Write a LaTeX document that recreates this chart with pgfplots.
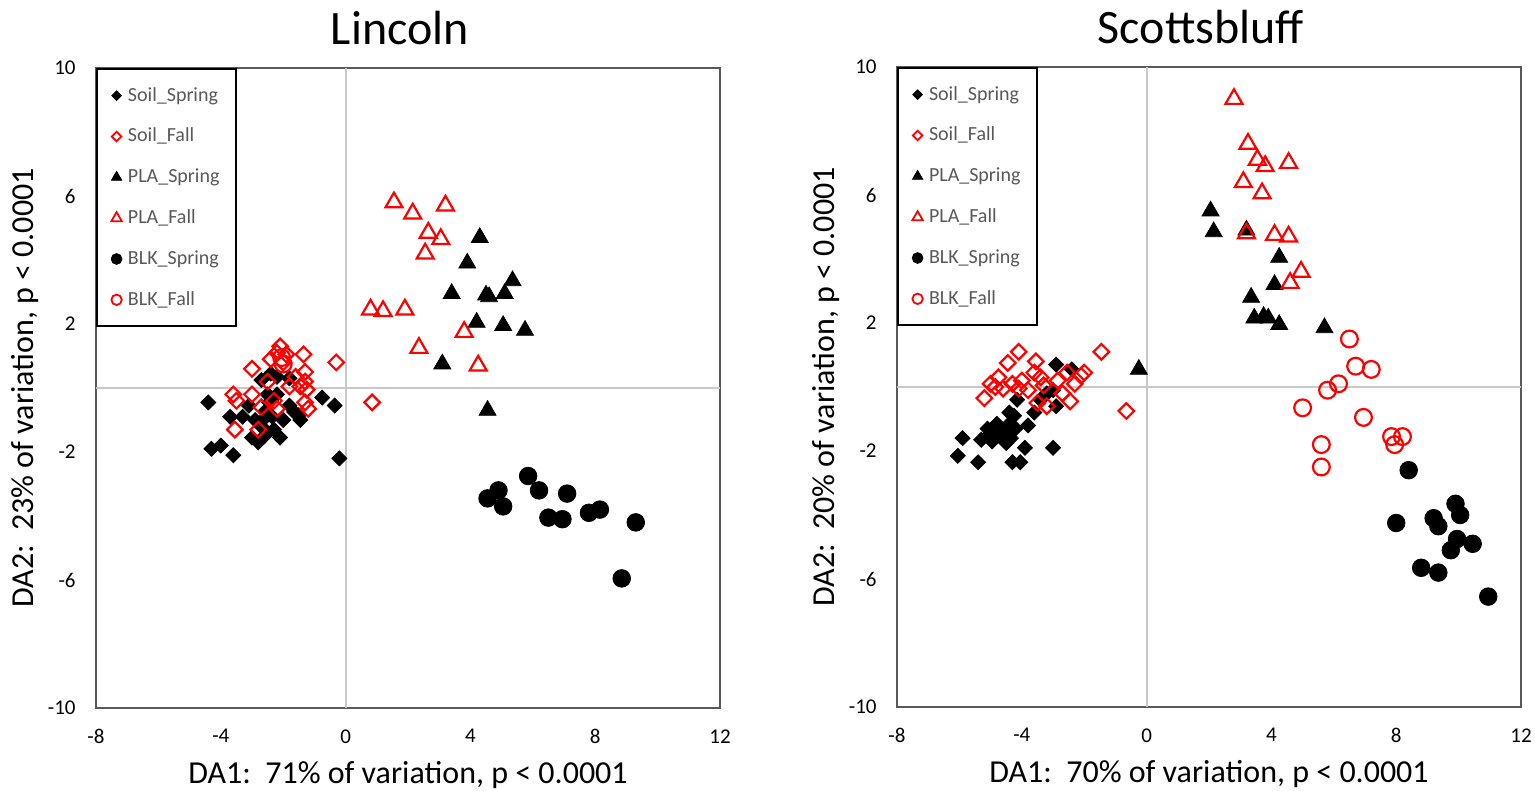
\documentclass[border=0pt]{standalone}
\usepackage{fontspec}
\setmainfont{Carlito}
\usepackage{pgfplots}
\pgfplotsset{compat=1.18}
\definecolor{axgray}{HTML}{595959}
\definecolor{zgray}{HTML}{C8C8C8}
\definecolor{lgray}{HTML}{595959}
\definecolor{myred}{HTML}{FF0000}
\pgfplotsset{
  mylegimg/.style={legend image code/.code={\draw[##1] plot coordinates {(0pt,0pt)};}},
  soilS/.style={only marks, color=black, mark=square*, mark size=2.65pt, mark options={rotate=45, fill=black, draw=black, line width=0.4pt}, mylegimg},
  soilF/.style={only marks, color=myred, mark=square, mark size=2.75pt, mark options={rotate=45, draw=myred, line width=1.1pt}, mylegimg},
  plaS/.style={only marks, color=black, mark=triangle*, mark size=4.9pt, mark options={fill=black, line width=0.4pt}, mylegimg},
  plaF/.style={only marks, color=myred, mark=triangle, mark size=4.9pt, mark options={draw=myred, line width=1.1pt}, mylegimg},
  blkS/.style={only marks, color=black, mark=*, mark size=4.4pt, mark options={fill=black, line width=0.4pt}, mylegimg},
  blkF/.style={only marks, color=myred, mark=o, mark size=4.2pt, mark options={draw=myred, line width=1.1pt}, mylegimg},
  myaxis/.style={
    scale only axis, width=312pt, height=320pt,
    xmin=-8, xmax=12, ymin=-10, ymax=10,
    xtick={-8,-4,0,4,8,12}, ytick={-10,-6,-2,2,6,10},
    major tick length=0pt,
    axis line style={draw=axgray, line width=0.75pt},
    tick label style={font=\fontsize{10.5}{12}\selectfont, /pgf/number format/assume math mode=true},
    yticklabel style={inner sep=0pt, xshift=-10pt},
    xticklabel style={inner sep=0pt, yshift=-10.5pt},
    xlabel style={at={(axis description cs:0.5,-0.1047)}, anchor=center, font=\fontsize{16}{19}\selectfont},
    ylabel style={at={(axis description cs:-0.1138,0.5)}, anchor=center, font=\fontsize{16}{19}\selectfont},
    title style={at={(axis description cs:0.487,1.043)}, anchor=center, font=\fontsize{24}{28}\selectfont},
    legend cell align=left,
    legend style={at={(axis description cs:0,1)}, anchor=north west, draw=black, line width=1.2pt, fill=white,
      font=\fontsize{10}{12}\selectfont, text=lgray, inner xsep=7pt, inner ysep=7pt, row sep=8pt,
      nodes={text width=45pt, align=left},
      /tikz/every odd column/.append style={column sep=1pt}},
    legend image post style={line width=0.5pt},
  },
}
\begin{document}
\begin{tikzpicture}
% ---------------- Lincoln ----------------
\begin{axis}[myaxis, title={Lincoln},
  xlabel={DA1:\ \ 71\% of variation, p < 0.0001},
  ylabel={DA2:\ \ 23\% of variation, p < 0.0001}]
\draw[zgray, line width=1pt] (axis cs:0,-10) -- (axis cs:0,10);
\draw[zgray, line width=1pt] (axis cs:-8,0) -- (axis cs:12,0);
\addlegendimage{soilS, mark size=1.7pt}\addlegendentry{Soil\_Spring}
\addlegendimage{soilF, mark size=1.7pt, mark options={rotate=45, draw=myred, line width=0.9pt}}\addlegendentry{Soil\_Fall}
\addlegendimage{plaS, mark size=3.0pt}\addlegendentry{PLA\_Spring}
\addlegendimage{plaF, mark size=3.0pt, mark options={draw=myred, line width=0.9pt}}\addlegendentry{PLA\_Fall}
\addlegendimage{blkS, mark size=2.7pt}\addlegendentry{BLK\_Spring}
\addlegendimage{blkF, mark size=2.6pt, mark options={draw=myred, line width=0.9pt}}\addlegendentry{BLK\_Fall}
\addplot[soilS, forget plot] coordinates {
(-4.4,-0.45) (-4.3,-1.9) (-4.0,-1.8) (-3.6,-2.1) (-3.7,-0.9) (-3.3,-0.9) (-3.1,-0.55)
(-3.0,-1.55) (-2.8,-1.7) (-2.7,-1.2) (-2.6,-0.95) (-2.55,-0.7) (-2.45,-0.45) (-2.7,0.25)
(-2.4,0.45) (-2.2,0.35) (-2.1,-1.55) (-1.8,-0.55) (-1.65,-0.75) (-1.45,-1.0) (-0.75,-0.3)
(-0.35,-0.55) (-0.2,-2.2) (-1.8,0.3) (-2.5,-0.2) (-2.35,-0.9) (-2.9,-1.0) (-2.2,-0.2)
(-2.6,-1.5) (-2.3,-1.3) (-2.0,-1.0) (-1.5,-0.85)};
\addplot[soilF, forget plot] coordinates {
(-2.1,1.3) (-2.2,1.1) (-1.9,1.05) (-1.35,1.05) (-0.3,0.8) (-3.0,0.6) (-2.4,0.9) (-2.0,0.8)
(-1.3,0.5) (-1.3,0.2) (-1.45,0.05) (-3.6,-0.2) (-3.0,-0.2) (-3.5,-0.4) (-2.3,-0.4) (-1.8,0.05)
(-1.25,-0.05) (-1.3,-0.45) (-1.2,-0.65) (-2.2,-0.65) (-3.55,-1.3) (-2.8,-1.3) (0.85,-0.45)
(-2.5,0.2) (-1.6,0.35) (-2.7,-0.6)};
\addplot[plaS, forget plot] coordinates {
(4.3,4.7) (3.9,3.9) (3.4,2.95) (4.5,2.9) (4.6,2.85) (5.35,3.35) (5.1,2.95) (4.2,2.05)
(5.05,1.95) (5.75,1.8) (3.1,0.75) (4.55,-0.7)};
\addplot[plaF, forget plot] coordinates {
(1.55,5.8) (2.15,5.45) (3.2,5.7) (2.65,4.85) (3.05,4.65) (2.55,4.2) (0.8,2.45) (1.2,2.4)
(1.9,2.45) (3.8,1.75) (2.35,1.25) (4.25,0.7)};
\addplot[blkS, forget plot] coordinates {
(5.85,-2.75) (4.9,-3.2) (4.55,-3.45) (5.05,-3.7) (6.2,-3.2) (7.1,-3.3) (6.5,-4.05)
(6.95,-4.1) (7.8,-3.9) (8.15,-3.8) (9.3,-4.2) (8.85,-5.95)};
\addplot[blkF, forget plot] coordinates {
(-2.05,0.95) (-2.0,0.75)};
\end{axis}
% ---------------- Scottsbluff ----------------
\begin{axis}[myaxis, at={(400.5pt,0.5pt)}, title={Scottsbluff},
  xlabel={DA1:\ \ 70\% of variation, p < 0.0001},
  ylabel={DA2:\ \ 20\% of variation, p < 0.0001}]
\draw[zgray, line width=1pt] (axis cs:0,-10) -- (axis cs:0,10);
\draw[zgray, line width=1pt] (axis cs:-8,0) -- (axis cs:12,0);
\addlegendimage{soilS, mark size=1.7pt}\addlegendentry{Soil\_Spring}
\addlegendimage{soilF, mark size=1.7pt, mark options={rotate=45, draw=myred, line width=0.9pt}}\addlegendentry{Soil\_Fall}
\addlegendimage{plaS, mark size=3.0pt}\addlegendentry{PLA\_Spring}
\addlegendimage{plaF, mark size=3.0pt, mark options={draw=myred, line width=0.9pt}}\addlegendentry{PLA\_Fall}
\addlegendimage{blkS, mark size=2.7pt}\addlegendentry{BLK\_Spring}
\addlegendimage{blkF, mark size=2.6pt, mark options={draw=myred, line width=0.9pt}}\addlegendentry{BLK\_Fall}
\addplot[soilS, forget plot] coordinates {
(-6.05,-2.15) (-5.9,-1.6) (-5.4,-2.35) (-5.3,-1.65) (-5.1,-1.3) (-4.95,-1.7) (-4.8,-1.15)
(-4.6,-1.4) (-4.45,-1.2) (-4.35,-1.6) (-4.3,-2.35) (-4.05,-2.35) (-4.25,-0.9) (-4.15,-0.4)
(-3.9,-1.9) (-3.8,-1.2) (-3.4,-0.4) (-3.2,-0.2) (-3.0,-0.1) (-2.9,-0.6) (-3.0,-1.9)
(-2.9,0.7) (-2.4,0.55) (-4.5,-1.75) (-4.7,-1.5) (-4.2,-1.3) (-4.4,-0.8) (-3.6,-0.8)
(-5.0,-1.45) (-3.3,-0.3)};
\addplot[soilF, forget plot] coordinates {
(-4.1,1.1) (-4.45,0.75) (-3.55,0.8) (-5.0,0.1) (-4.75,0.3) (-4.85,0.0) (-5.2,-0.35)
(-4.6,-0.05) (-4.3,0.1) (-4.1,-0.05) (-3.8,-0.1) (-3.6,0.45) (-3.4,0.3) (-3.5,-0.5)
(-3.2,-0.6) (-2.85,0.2) (-2.55,0.45) (-2.3,0.1) (-2.1,0.35) (-2.0,0.45) (-2.45,-0.45)
(-1.45,1.1) (-0.65,-0.75) (-4.0,0.2) (-3.3,0.05) (-2.7,-0.2)};
\addplot[plaS, forget plot] coordinates {
(2.05,5.5) (2.15,4.85) (3.2,4.9) (4.25,4.05) (4.1,3.2) (3.35,2.8) (3.45,2.15) (3.75,2.2)
(3.9,2.15) (4.25,1.95) (5.7,1.85) (-0.25,0.55)};
\addplot[plaF, forget plot] coordinates {
(2.8,9.0) (3.25,7.6) (3.55,7.1) (3.8,6.9) (4.55,7.0) (3.1,6.4) (3.7,6.05) (3.2,4.8)
(4.1,4.75) (4.55,4.7) (4.95,3.6) (4.6,3.25)};
\addplot[blkS, forget plot] coordinates {
(8.4,-2.6) (8.0,-4.25) (9.2,-4.1) (9.35,-4.35) (9.9,-3.65) (10.05,-4.0) (9.95,-4.75)
(10.45,-4.9) (9.75,-5.1) (8.8,-5.65) (9.35,-5.8) (10.95,-6.55)};
\addplot[blkF, forget plot] coordinates {
(6.5,1.5) (6.7,0.65) (7.2,0.55) (6.15,0.1) (5.8,-0.1) (5.0,-0.65) (6.95,-0.95) (7.85,-1.55)
(8.2,-1.55) (7.95,-1.8) (5.6,-1.8) (5.6,-2.5)};
\end{axis}
\pgfresetboundingbox
\path[use as bounding box] (-48pt,-41.5pt) rectangle (719.5pt,354pt);
\end{tikzpicture}
\end{document}
